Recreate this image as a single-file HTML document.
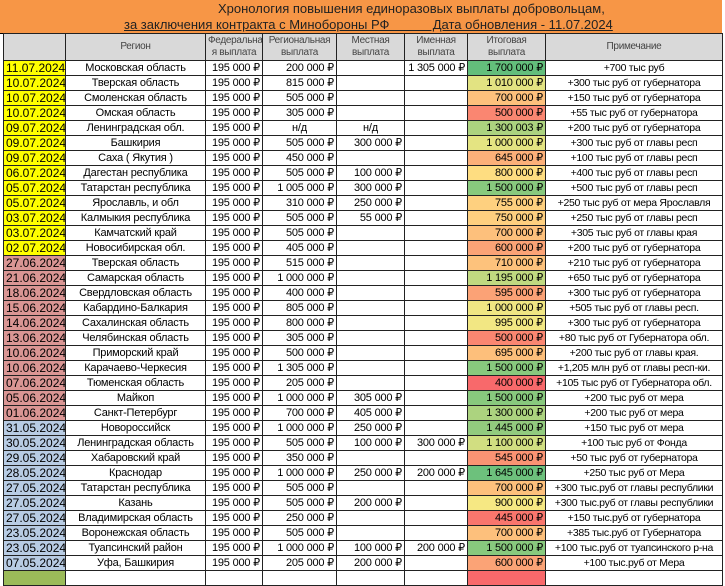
<!DOCTYPE html>
<html><head><meta charset="utf-8"><style>
html,body{margin:0;padding:0;background:#fff;}
body{width:725px;height:573px;overflow:hidden;position:relative;font-family:"Liberation Sans","DejaVu Sans",sans-serif;}
.title{position:absolute;left:0;top:0;width:722px;height:33px;background:#f79646;border-bottom:1px solid #000;}
.t1{position:absolute;left:218px;top:1px;font-size:13px;color:#222;white-space:nowrap;}
.t2{position:absolute;left:124px;top:17px;font-size:13px;color:#222;text-decoration:underline;white-space:pre;}
table{position:absolute;left:3px;top:33px;width:719px;border-collapse:collapse;table-layout:fixed;font-size:11px;}
td{border:1px solid #222;padding:0 2px;height:14px;line-height:14px;white-space:nowrap;overflow:hidden;text-align:right;letter-spacing:-0.2px;}
tr.h td{height:26px;line-height:12px;background:#d9d9d9;color:#444;text-align:center;font-size:10px;letter-spacing:-0.3px;}
td.d{text-align:left;font-size:12px;padding-left:2px;letter-spacing:0;}
td.c{text-align:center;}
td.n{text-align:center;font-size:10.5px;letter-spacing:-0.3px;}
.y{background:#ffff00}.p{background:#da9694}.b{background:#b8cce4}
</style></head><body>
<div class="title"><div class="t1">Хронология повышения единоразовых выплаты добровольцам,</div>
<div class="t2">за заключения контракта с Минобороны РФ            Дата обновления - 11.07.2024</div></div>
<table>
<colgroup><col style="width:62px"><col style="width:140px"><col style="width:57px"><col style="width:74px"><col style="width:68px"><col style="width:63px"><col style="width:78px"><col style="width:177px"></colgroup>
<tr class="h"><td></td><td>Регион</td><td>Федеральна<br>я выплата</td><td>Региональная<br>выплата</td><td>Местная<br>выплата</td><td>Именная<br>выплата</td><td>Итоговая<br>выплата</td><td>Примечание</td></tr>
<tr><td class="d y">11.07.2024</td><td class="c">Московская область</td><td>195 000 ₽</td><td>200 000 ₽</td><td></td><td>1 305 000 ₽</td><td style="background:#63be7b">1 700 000 ₽</td><td class="n">+700 тыс руб</td></tr>
<tr><td class="d y">10.07.2024</td><td class="c">Тверская область</td><td>195 000 ₽</td><td>815 000 ₽</td><td></td><td></td><td style="background:#e2e382">1 010 000 ₽</td><td class="n">+300 тыс руб от губернатора</td></tr>
<tr><td class="d y">10.07.2024</td><td class="c">Смоленская область</td><td>195 000 ₽</td><td>505 000 ₽</td><td></td><td></td><td style="background:#fdc07c">700 000 ₽</td><td class="n">+150 тыс руб от губернатора</td></tr>
<tr><td class="d y">10.07.2024</td><td class="c">Омская область</td><td>195 000 ₽</td><td>305 000 ₽</td><td></td><td></td><td style="background:#fa8671">500 000 ₽</td><td class="n">+55 тыс руб от губернатора</td></tr>
<tr><td class="d y">09.07.2024</td><td class="c">Ленинградская обл.</td><td>195 000 ₽</td><td class="c">н/д</td><td class="c">н/д</td><td></td><td style="background:#acd37f">1 300 003 ₽</td><td class="n">+200 тыс руб от губернатора</td></tr>
<tr><td class="d y">09.07.2024</td><td class="c">Башкирия</td><td>195 000 ₽</td><td>505 000 ₽</td><td>300 000 ₽</td><td></td><td style="background:#e4e482">1 000 000 ₽</td><td class="n">+300 тыс руб от главы респ</td></tr>
<tr><td class="d y">09.07.2024</td><td class="c">Саха ( Якутия )</td><td>195 000 ₽</td><td>450 000 ₽</td><td></td><td></td><td style="background:#fcb079">645 000 ₽</td><td class="n">+100 тыс руб от главы респ</td></tr>
<tr><td class="d y">06.07.2024</td><td class="c">Дагестан республика</td><td>195 000 ₽</td><td>505 000 ₽</td><td>100 000 ₽</td><td></td><td style="background:#fedd81">800 000 ₽</td><td class="n">+400 тыс руб от главы респ</td></tr>
<tr><td class="d y">05.07.2024</td><td class="c">Татарстан республика</td><td>195 000 ₽</td><td>1 005 000 ₽</td><td>300 000 ₽</td><td></td><td style="background:#88c97d">1 500 000 ₽</td><td class="n">+500 тыс руб от главы респ</td></tr>
<tr><td class="d y">05.07.2024</td><td class="c">Ярославль, и обл</td><td>195 000 ₽</td><td>310 000 ₽</td><td>250 000 ₽</td><td></td><td style="background:#fed07f">755 000 ₽</td><td class="n">+250 тыс руб от мера Ярославля</td></tr>
<tr><td class="d y">03.07.2024</td><td class="c">Калмыкия республика</td><td>195 000 ₽</td><td>505 000 ₽</td><td>55 000 ₽</td><td></td><td style="background:#fecf7f">750 000 ₽</td><td class="n">+250 тыс руб от главы респ</td></tr>
<tr><td class="d y">03.07.2024</td><td class="c">Камчатский край</td><td>195 000 ₽</td><td>505 000 ₽</td><td></td><td></td><td style="background:#fdc07c">700 000 ₽</td><td class="n">+305 тыс руб от главы края</td></tr>
<tr><td class="d y">02.07.2024</td><td class="c">Новосибирская обл.</td><td>195 000 ₽</td><td>405 000 ₽</td><td></td><td></td><td style="background:#fba376">600 000 ₽</td><td class="n">+200 тыс руб от губернатора</td></tr>
<tr><td class="d p">27.06.2024</td><td class="c">Тверская область</td><td>195 000 ₽</td><td>515 000 ₽</td><td></td><td></td><td style="background:#fdc27c">710 000 ₽</td><td class="n">+210 тыс руб от губернатора</td></tr>
<tr><td class="d p">21.06.2024</td><td class="c">Самарская область</td><td>195 000 ₽</td><td>1 000 000 ₽</td><td></td><td></td><td style="background:#c0d980">1 195 000 ₽</td><td class="n">+650 тыс руб от губернатора</td></tr>
<tr><td class="d p">18.06.2024</td><td class="c">Свердловская область</td><td>195 000 ₽</td><td>400 000 ₽</td><td></td><td></td><td style="background:#fba276">595 000 ₽</td><td class="n">+300 тыс руб от губернатора</td></tr>
<tr><td class="d p">15.06.2024</td><td class="c">Кабардино-Балкария</td><td>195 000 ₽</td><td>805 000 ₽</td><td></td><td></td><td style="background:#f0e683">1 000 000 ₽</td><td class="n">+505 тыс руб от главы респ.</td></tr>
<tr><td class="d p">14.06.2024</td><td class="c">Сахалинская область</td><td>195 000 ₽</td><td>800 000 ₽</td><td></td><td></td><td style="background:#f2e783">995 000 ₽</td><td class="n">+300 тыс руб от губернатора</td></tr>
<tr><td class="d p">13.06.2024</td><td class="c">Челябинская область</td><td>195 000 ₽</td><td>305 000 ₽</td><td></td><td></td><td style="background:#fa8671">500 000 ₽</td><td class="n">+80 тыс руб от Губернатора обл.</td></tr>
<tr><td class="d p">10.06.2024</td><td class="c">Приморский край</td><td>195 000 ₽</td><td>500 000 ₽</td><td></td><td></td><td style="background:#fdbf7b">695 000 ₽</td><td class="n">+200 тыс руб от главы края.</td></tr>
<tr><td class="d p">10.06.2024</td><td class="c">Карачаево-Черкесия</td><td>195 000 ₽</td><td>1 305 000 ₽</td><td></td><td></td><td style="background:#88c97d">1 500 000 ₽</td><td class="n">+1,205 млн руб от главы респ-ки.</td></tr>
<tr><td class="d p">07.06.2024</td><td class="c">Тюменская область</td><td>195 000 ₽</td><td>205 000 ₽</td><td></td><td></td><td style="background:#f8696b">400 000 ₽</td><td class="n">+105 тыс руб от Губернатора обл.</td></tr>
<tr><td class="d p">05.06.2024</td><td class="c">Майкоп</td><td>195 000 ₽</td><td>1 000 000 ₽</td><td>305 000 ₽</td><td></td><td style="background:#88c97d">1 500 000 ₽</td><td class="n">+200 тыс руб от мера</td></tr>
<tr><td class="d p">01.06.2024</td><td class="c">Санкт-Петербург</td><td>195 000 ₽</td><td>700 000 ₽</td><td>405 000 ₽</td><td></td><td style="background:#acd37f">1 300 000 ₽</td><td class="n">+200 тыс руб от мера</td></tr>
<tr><td class="d b">31.05.2024</td><td class="c">Новороссийск</td><td>195 000 ₽</td><td>1 000 000 ₽</td><td>250 000 ₽</td><td></td><td style="background:#92cb7e">1 445 000 ₽</td><td class="n">+150 тыс руб от мера</td></tr>
<tr><td class="d b">30.05.2024</td><td class="c">Ленинградская область</td><td>195 000 ₽</td><td>505 000 ₽</td><td>100 000 ₽</td><td>300 000 ₽</td><td style="background:#d1de81">1 100 000 ₽</td><td class="n">+100 тыс руб от Фонда</td></tr>
<tr><td class="d b">29.05.2024</td><td class="c">Хабаровский край</td><td>195 000 ₽</td><td>350 000 ₽</td><td></td><td></td><td style="background:#fa9373">545 000 ₽</td><td class="n">+50 тыс руб от губернатора</td></tr>
<tr><td class="d b">28.05.2024</td><td class="c">Краснодар</td><td>195 000 ₽</td><td>1 000 000 ₽</td><td>250 000 ₽</td><td>200 000 ₽</td><td style="background:#6dc17c">1 645 000 ₽</td><td class="n">+250 тыс руб от Мера</td></tr>
<tr><td class="d b">27.05.2024</td><td class="c">Татарстан республика</td><td>195 000 ₽</td><td>505 000 ₽</td><td></td><td></td><td style="background:#fdc07c">700 000 ₽</td><td class="n">+300 тыс.руб от главы республики</td></tr>
<tr><td class="d b">27.05.2024</td><td class="c">Казань</td><td>195 000 ₽</td><td>505 000 ₽</td><td>200 000 ₽</td><td></td><td style="background:#f6e883">900 000 ₽</td><td class="n">+300 тыс.руб от главы республики</td></tr>
<tr><td class="d b">27.05.2024</td><td class="c">Владимирская область</td><td>195 000 ₽</td><td>250 000 ₽</td><td></td><td></td><td style="background:#f9766d">445 000 ₽</td><td class="n">+150 тыс.руб от губернатора</td></tr>
<tr><td class="d b">23.05.2024</td><td class="c">Воронежская область</td><td>195 000 ₽</td><td>505 000 ₽</td><td></td><td></td><td style="background:#fdc07c">700 000 ₽</td><td class="n">+385 тыс.руб от Губернатора</td></tr>
<tr><td class="d b">23.05.2024</td><td class="c">Туапсинский район</td><td>195 000 ₽</td><td>1 000 000 ₽</td><td>100 000 ₽</td><td>200 000 ₽</td><td style="background:#88c97d">1 500 000 ₽</td><td class="n">+100 тыс.руб от туапсинского р-на</td></tr>
<tr><td class="d b">07.05.2024</td><td class="c">Уфа, Башкирия</td><td>195 000 ₽</td><td>205 000 ₽</td><td>200 000 ₽</td><td></td><td style="background:#fba376">600 000 ₽</td><td class="n">+100 тыс.руб от Мера</td></tr>
<tr><td class="d" style="background:#9bbb59"></td><td></td><td></td><td></td><td></td><td></td><td style="background:#f8696b"></td><td></td></tr>
</table>
</body></html>
